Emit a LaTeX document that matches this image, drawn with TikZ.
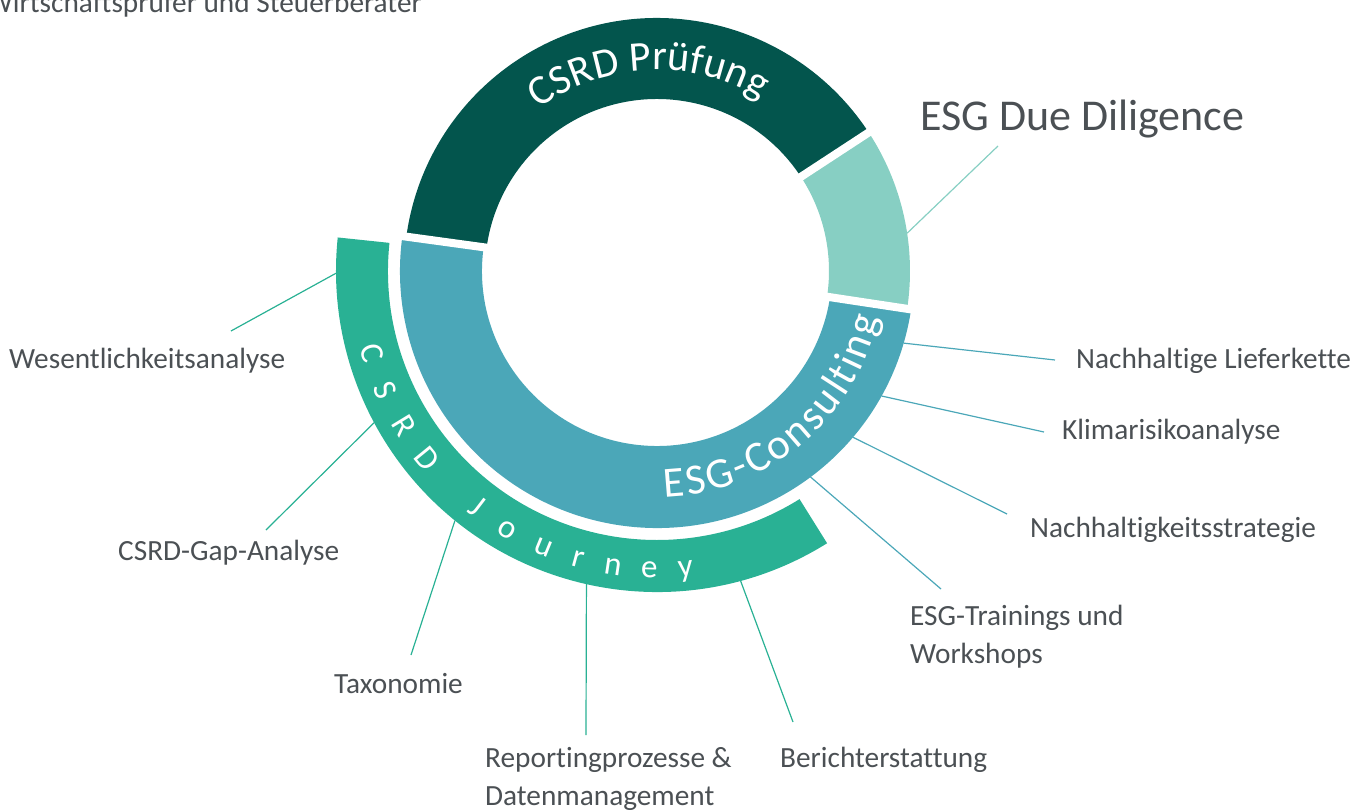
\documentclass[tikz,border=0pt]{standalone}
\usepackage{fontspec}
\setmainfont{Carlito}[Ligatures=NoCommon]
\usepackage{xcolor}
\usetikzlibrary{decorations.text}
\definecolor{pruefdark}{HTML}{03554D}
\definecolor{ddlight}{HTML}{87CFC3}
\definecolor{consblue}{HTML}{4BA7B8}
\definecolor{journeygreen}{HTML}{29B194}
\definecolor{labelgray}{HTML}{4B5054}
\tikzset{
    lead/.style={line width=1.2pt},
    gapline/.style={white, line width=8pt},
    lbl/.style={text=labelgray, font=\fontsize{29.3}{38}\selectfont, inner sep=0pt, align=left},
    jletter/.style={text=white, font=\fontsize{33}{33}\selectfont, inner sep=0pt, anchor=base}
}

\begin{document}
\begin{tikzpicture}[x=1pt, y=1pt]
    \useasboundingbox (-657,-538) rectangle (711,271);
    % Inner ring: Pruefung, Due Diligence, Consulting
    \fill[pruefdark] (34:172) arc[start angle=34, end angle=172, radius=172] -- (172:253) arc[start angle=172, end angle=34, radius=253] -- cycle;
    \fill[ddlight] (-9:172) arc[start angle=-9, end angle=34, radius=172] -- (34:253) arc[start angle=34, end angle=-9, radius=253] -- cycle;
    \fill[consblue] (172:175) arc[start angle=172, end angle=351, radius=175] -- (351:257) arc[start angle=351, end angle=172, radius=257] -- cycle;
    \foreach \a in {33.2, 172.2, -8.6}
        \draw[gapline] (\a:160) -- (\a:262);
    % Outer ring: Journey
    \fill[journeygreen] (174:269) arc[start angle=174, end angle=302, radius=269] -- (302:321) arc[start angle=302, end angle=174, radius=321] -- cycle;
    % Ring texts
    \path[decorate, decoration={text along path, text align=center,
        text={|\fontsize{42}{42}\selectfont\color{white}|CSRD Prüfung}}]
        (150:201) arc[start angle=150, end angle=35, radius=201];
    \path[decorate, decoration={text along path, text align={fit to path},
        text={|\fontsize{43}{43}\selectfont\color{white}|ESG-Consulting}}]
        (-88:226) arc[start angle=-88, end angle=-12, radius=226];
    \foreach \ch/\a in {C/196, S/203.7, R/211.4, D/219.2, J/232.6, o/240, u/247.7, r/254.8, n/261.5, e/268.5, y/275.5}
        \node[jletter, rotate=\a+90] at (\a:307) {\ch};
    % Labels
    \node[lbl, anchor=base east] (wpst) at (-235,258) {Wirtschaftsprüfer und Steuerberater};
    \node[lbl, anchor=base west, font=\fontsize{44}{44}\selectfont] (dd) at (263,141) {ESG Due Diligence};
    \node[lbl, anchor=base west] (liefer) at (419,-97) {Nachhaltige Lieferkette};
    \node[lbl, anchor=base west] (klima) at (405,-168) {Klimarisikoanalyse};
    \node[lbl, anchor=base west] (strat) at (373,-266) {Nachhaltigkeitsstrategie};
    \node[lbl, anchor=base west] (train) at (253,-392) {ESG-Trainings und\\Workshops};
    \node[lbl, anchor=base west] (ber) at (123,-496) {Berichterstattung};
    \node[lbl, anchor=base west] (rep) at (-172,-534) {Reportingprozesse \&\\Datenmanagement};
    \node[lbl, anchor=base west] (tax) at (-323,-422) {Taxonomie};
    \node[lbl, anchor=base west] (gapa) at (-539,-289) {CSRD-Gap-Analyse};
    \node[lbl, anchor=base west] (wes) at (-648,-97) {Wesentlichkeitsanalyse};
    % Leader line ends
    \coordinate (dd-ring) at (8.6:253);      \coordinate (dd-tip) at (341,125);
    \coordinate (liefer-ring) at (-16.3:257); \coordinate (liefer-tip) at (398,-89);
    \coordinate (klima-ring) at (-29.1:257);  \coordinate (klima-tip) at (387,-161);
    \coordinate (strat-ring) at (-40.3:257);  \coordinate (strat-tip) at (350,-243);
    \coordinate (train-ring) at (-53.3:257);  \coordinate (train-tip) at (284,-318);
    \coordinate (ber-ring) at (285.1:321);    \coordinate (ber-tip) at (136,-451);
    \coordinate (rep-ring) at (257.3:321);    \coordinate (rep-tip) at (-71,-464);
    \coordinate (tax-ring) at (231.0:321);    \coordinate (tax-tip) at (-246,-384);
    \coordinate (gapa-ring) at (208.2:321);   \coordinate (gapa-tip) at (-391,-259);
    \coordinate (wes-ring) at (180.4:321);    \coordinate (wes-tip) at (-426,-60);
    % Leader lines
    \draw[lead, ddlight] (dd-ring) -- (dd-tip);
    \draw[lead, consblue] (liefer-ring) -- (liefer-tip);
    \draw[lead, consblue] (klima-ring) -- (klima-tip);
    \draw[lead, consblue] (strat-ring) -- (strat-tip);
    \draw[lead, consblue] (train-ring) -- (train-tip);
    \draw[lead, journeygreen] (ber-ring) -- (ber-tip);
    \draw[lead, journeygreen] (rep-ring) -- (rep-tip);
    \draw[lead, journeygreen] (tax-ring) -- (tax-tip);
    \draw[lead, journeygreen] (gapa-ring) -- (gapa-tip);
    \draw[lead, journeygreen] (wes-ring) -- (wes-tip);
\end{tikzpicture}
\end{document}
